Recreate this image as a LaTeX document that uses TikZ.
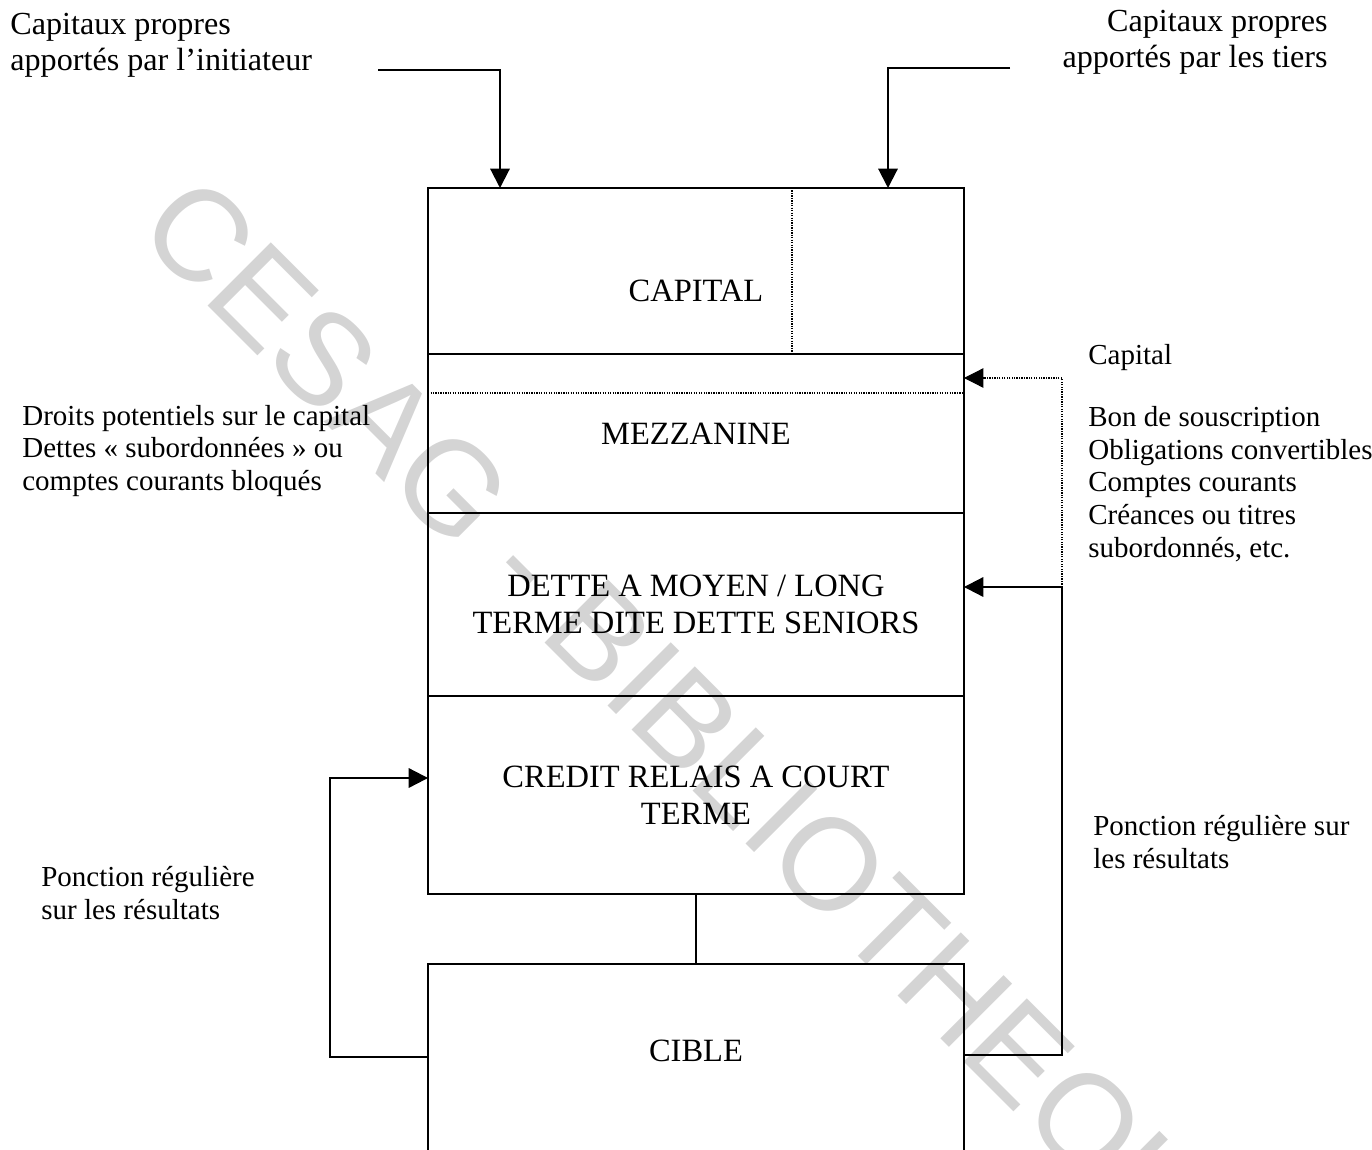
\documentclass[tikz,border=0pt]{standalone}
\usepackage{fontspec}
\setmainfont{Liberation Serif}
\newfontfamily\wmfont{Liberation Sans}
\usetikzlibrary{positioning,arrows.meta}

\begin{document}
\begin{tikzpicture}[x=0.02cm,y=-0.02cm,
  layer/.style={draw,line width=1.2pt,minimum width=10.72cm,inner sep=0,outer sep=0,
    align=center,font=\fontsize{18.5}{21}\selectfont},
  boxtxt/.style={inner sep=0,align=center,font=\fontsize{18.5}{21}\selectfont},
  txt/.style={inner sep=0,font=\fontsize{16.5}{18.6}\selectfont},
  toptxt/.style={inner sep=0,font=\fontsize{18.3}{20.5}\selectfont},
  flow/.style={line width=1.2pt,-{Triangle[width=11pt,length=11pt]}},
  dotflow/.style={line width=0.6pt,dash pattern=on 0.7pt off 0.7pt,-{Triangle[width=11pt,length=11pt]}},
  divider/.style={line width=0.6pt,dash pattern=on 0.7pt off 0.7pt}]
  \useasboundingbox(0,0)rectangle(1372,1149);
  % stamp of the scan
  \node[anchor=base west,rotate=-45,inner sep=0,text=black!17,font=\fontsize{74}{74}\wmfont] (stamp) at (134,232) {CESAG - BIBLIOTHEQUE};
  % the financing stack
  \node[layer,minimum height=3.32cm,anchor=north,label={[boxtxt,yshift=-0.4cm]center:CAPITAL}] (capital) at (696,188) {};
  \node[layer,minimum height=3.18cm,below=0pt of capital] (mezz) {MEZZANINE};
  \node[layer,minimum height=3.66cm,below=0pt of mezz] (dette) {DETTE A MOYEN / LONG\\TERME DITE DETTE SENIORS};
  \node[layer,minimum height=3.96cm,below=0pt of dette] (credit) {CREDIT RELAIS A COURT\\TERME};
  \node[layer,minimum height=5cm,below=1.4cm of credit] (cible) {};
  \node[boxtxt] (ciblelbl) at (cible.north |- 0,1051) {CIBLE};
  \draw[divider](capital.north -| 792,0)--(capital.south -| 792,0);
  \draw[divider](mezz.west |- 0,393)--(mezz.east |- 0,393);
  \draw[line width=1.2pt](credit.south)--(cible.north);
  % equity on top
  \node[toptxt,anchor=west,align=left] (initlbl) at (10,45) {Capitaux propres\\apportés par l’initiateur};
  \node[toptxt,anchor=east,align=right] (tierslbl) at (1328,42) {Capitaux propres\\apportés par les tiers};
  \coordinate (initsrc) at (378,70);
  \coordinate (tierssrc) at (1010,68);
  \draw[flow](initsrc) -| (capital.north -| 500,0);
  \draw[flow](tierssrc) -| (capital.north -| 888,0);
  % right side
  \node[txt,anchor=west] (caplbl) at (1088,358) {Capital};
  \node[txt,anchor=west,align=left] (mezzlbl) at (1088,484) {Bon de souscription\\Obligations convertibles\\Comptes courants\\Créances ou titres\\subordonnés, etc.};
  \node[txt,anchor=west,align=left] (rponclbl) at (1093,842) {Ponction régulière sur\\les résultats};
  \coordinate (rturn) at (1062,587);
  \draw[flow](cible.east |- 0,1055) -| (rturn) -- (dette.east |- rturn);
  \draw[dotflow](rturn) |- (mezz.east |- 0,378);
  % left side
  \node[txt,anchor=west,align=left] (droitslbl) at (22,451) {Droits potentiels sur le capital\\Dettes « subordonnées » ou\\comptes courants bloqués};
  \node[txt,anchor=west,align=left] (lponclbl) at (41,893) {Ponction régulière\\sur les résultats};
  \coordinate (lturn) at (330,778);
  \draw[flow](cible.west |- 0,1057) -| (lturn) -- (credit.west |- lturn);
\end{tikzpicture}
\end{document}
